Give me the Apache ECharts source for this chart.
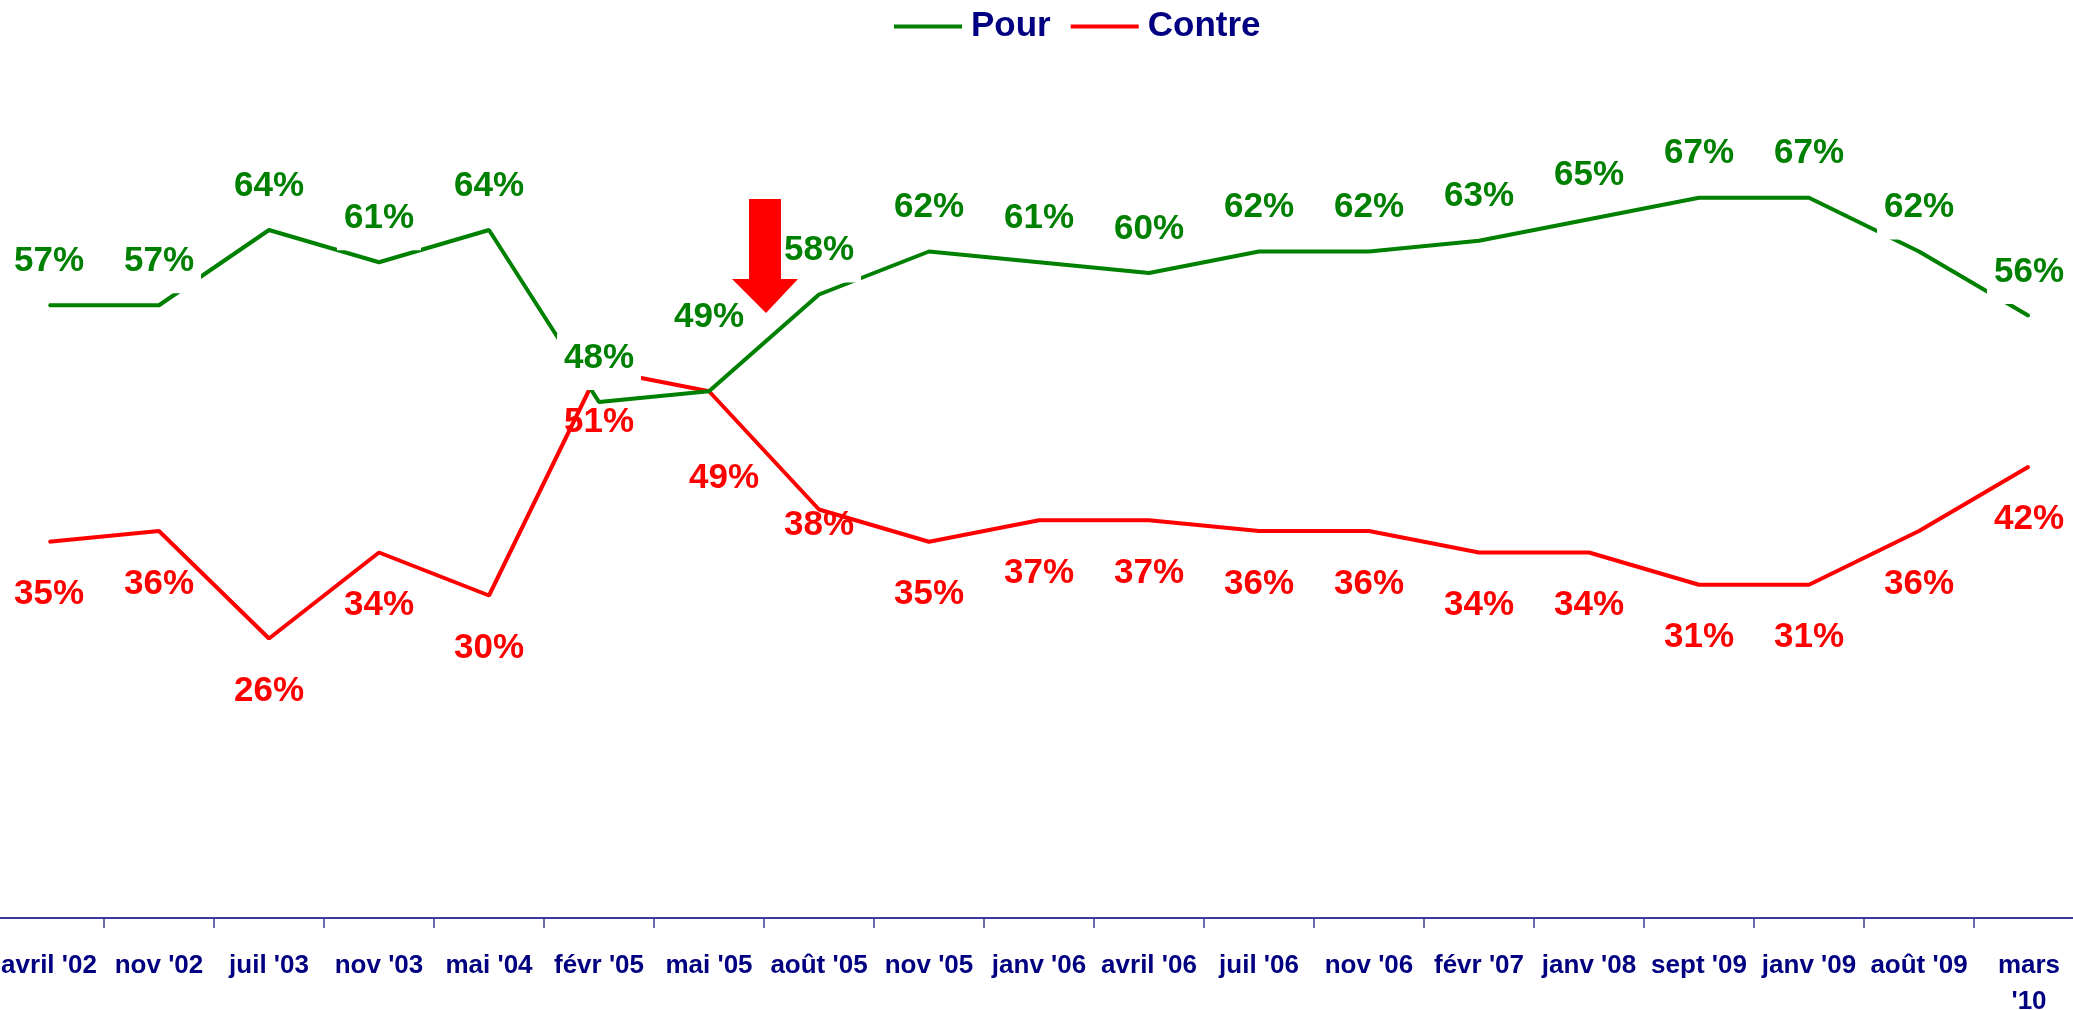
<!DOCTYPE html>
<html>
<head>
<meta charset="utf-8">
<style>
  html, body { margin: 0; padding: 0; background: #fff; overflow: hidden; }
  #chart-container { position: absolute; left: -6px; top: 0; width: 2090px; height: 1010px; }
</style>
<script src="https://cdn.jsdelivr.net/npm/echarts@6/dist/echarts.min.js"></script>
</head>
<body>
<div id="chart-container"></div>
<script>
var categories = ["avril '02", "nov '02", "juil '03", "nov '03", "mai '04", "févr '05", "mai '05", "août '05", "nov '05", "janv '06", "avril '06", "juil '06", "nov '06", "févr '07", "janv '08", "sept '09", "janv '09", "août '09", "mars '10"];
var pour = [57, 57, 64, 61, 64, 48, 49, 58, 62, 61, 60, 62, 62, 63, 65, 67, 67, 62, 56];
var contre = [35, 36, 26, 34, 30, 51, 49, 38, 35, 37, 37, 36, 36, 34, 34, 31, 31, 36, 42];

// a few labels were moved by hand in the original
var pourLabelShift = { 6: [0, -30] };
var contreLabelShift = { 6: [15, 34], 7: [0, -37] };

var FONT = "'Liberation Sans', Arial, sans-serif";

function withShift(values, shifts) {
  return values.map(function (v, i) {
    if (shifts[i]) {
      return { value: v, label: { offset: shifts[i] } };
    }
    return v;
  });
}

var dom = document.getElementById('chart-container');
var myChart = echarts.init(dom, null, { renderer: 'canvas' });

var option = {
  backgroundColor: '#ffffff',
  animation: false,
  legend: {
    left: 895,
    top: 4,
    icon: 'rect',
    itemWidth: 68,
    itemHeight: 4,
    itemGap: 20,
    textStyle: {
      color: '#000080',
      fontFamily: FONT,
      fontWeight: 'bold',
      fontSize: 35,
      padding: [0, 0, 0, 4]
    },
    data: ['Pour', 'Contre']
  },
  grid: {
    left: 0,
    right: 0,
    top: 58,
    bottom: 92,
    containLabel: false,
    outerBoundsMode: 'none'
  },
  xAxis: {
    type: 'category',
    data: categories,
    boundaryGap: true,
    axisLine: { lineStyle: { color: '#3a3a9a', width: 2 } },
    axisTick: { show: true, length: 10, lineStyle: { color: '#3a3a9a', width: 1.5 } },
    axisLabel: {
      interval: 0,
      margin: 30,
      color: '#000080',
      fontFamily: FONT,
      fontWeight: 'bold',
      fontSize: 26,
      lineHeight: 36,
      formatter: function (v, i) {
        return i === categories.length - 1 ? v.replace(' ', '\n') : v;
      }
    }
  },
  yAxis: {
    type: 'value',
    min: 0,
    max: 80,
    show: false,
    splitLine: { show: false }
  },
  series: [
    {
      name: 'Pour',
      type: 'line',
      z: 3,
      data: withShift(pour, pourLabelShift),
      symbol: 'circle',
      symbolSize: 2,
      showSymbol: true,
      color: '#008000',
      lineStyle: { color: '#008000', width: 4 },
      label: {
        show: true,
        position: 'top',
        distance: 11,
        formatter: '{c}%',
        color: '#008000',
        fontFamily: FONT,
        fontWeight: 'bold',
        fontSize: 35,
        lineHeight: 40,
        backgroundColor: '#ffffff',
        padding: [4, 7, 12, 7]
      }
    },
    {
      name: 'Contre',
      type: 'line',
      z: 2,
      data: withShift(contre, contreLabelShift),
      symbol: 'circle',
      symbolSize: 2,
      showSymbol: true,
      color: '#ff0000',
      lineStyle: { color: '#ff0000', width: 4 },
      label: {
        show: true,
        position: 'bottom',
        distance: 32,
        formatter: '{c}%',
        color: '#ff0000',
        fontFamily: FONT,
        fontWeight: 'bold',
        fontSize: 35,
        lineHeight: 40
      }
    }
  ],
  graphic: [
    {
      type: 'polygon',
      z: 10,
      shape: {
        points: [[755, 199], [787, 199], [787, 279], [804, 279], [772, 313], [738, 279], [755, 279]]
      },
      style: { fill: '#ff0000' }
    }
  ]
};

myChart.setOption(option);
window.addEventListener('resize', myChart.resize);
</script>
</body>
</html>
